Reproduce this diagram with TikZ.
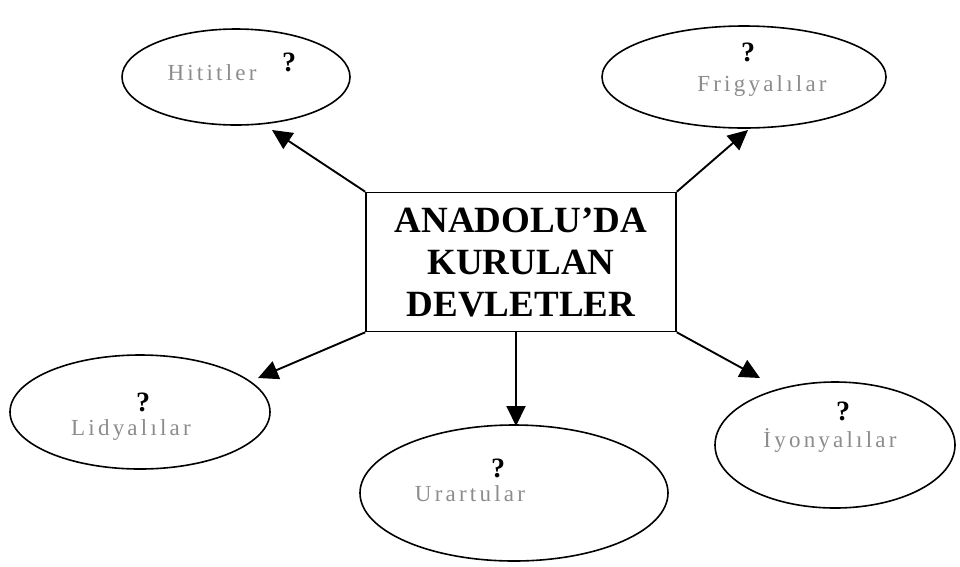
\documentclass[tikz,border=0pt]{standalone}
\usepackage{fontspec}
\setmainfont{Liberation Serif}
\newfontfamily\handfont[LetterSpace=14]{Liberation Serif}
\usetikzlibrary{arrows.meta}
\begin{document}
\begin{tikzpicture}[x=1pt,y=-1pt,
  oval/.style={draw, line width=1.6pt},
  link/.style={line width=1.9pt, -{Triangle[length=20pt,width=19pt]}},
  hand/.style={text=black!45, inner sep=0pt, font=\handfont\fontsize{23}{26}\selectfont},
  qmark/.style={inner sep=0pt, font=\bfseries\fontsize{28}{30}\selectfont},
  title/.style={draw, line width=1.6pt, minimum width=310pt, minimum height=139pt,
    align=center, font=\bfseries\fontsize{37}{42}\selectfont}]
  \useasboundingbox (0,0) rectangle (960,566);

  % central box
  \node[title] (box) at (521,262) {ANADOLU’DA\\KURULAN\\DEVLETLER};

  % the five states
  \draw[oval] (236,77) ellipse [x radius=114, y radius=48];
  \draw[oval] (744,77) ellipse [x radius=142, y radius=51];
  \draw[oval] (140,412) ellipse [x radius=130, y radius=57];
  \draw[oval] (514,493) ellipse [x radius=154, y radius=68];
  \draw[oval] (835,445) ellipse [x radius=120, y radius=63];

  % arrow tips on the ellipse rims
  \coordinate (hit) at (272,130);
  \coordinate (fri) at (748,130);
  \coordinate (lid) at (258,378);
  \coordinate (ura) at (516,426);
  \coordinate (iyo) at (760,378);

  \draw[link] (box.north west) -- (hit);
  \draw[link] (box.north east) -- (fri);
  \draw[link] (box.south west) -- (lid);
  \draw[link] ([xshift=-5pt]box.south) -- (ura);
  \draw[link] (box.south east) -- (iyo);

  % labels
  \node[hand] (lhit) at (212,73) {Hititler};
  \node[qmark] (qhit) at (289,62) {?};
  \node[hand] (lfri) at (762,86) {Frigyalılar};
  \node[qmark] (qfri) at (748,52) {?};
  \node[hand] (llid) at (131,430) {Lidyalılar};
  \node[qmark] (qlid) at (143,402) {?};
  \node[hand] (lura) at (470,494) {Urartular};
  \node[qmark] (qura) at (498,468) {?};
  \node[hand] (liyo) at (830,440) {İyonyalılar};
  \node[qmark] (qiyo) at (843,411) {?};
\end{tikzpicture}
\end{document}
